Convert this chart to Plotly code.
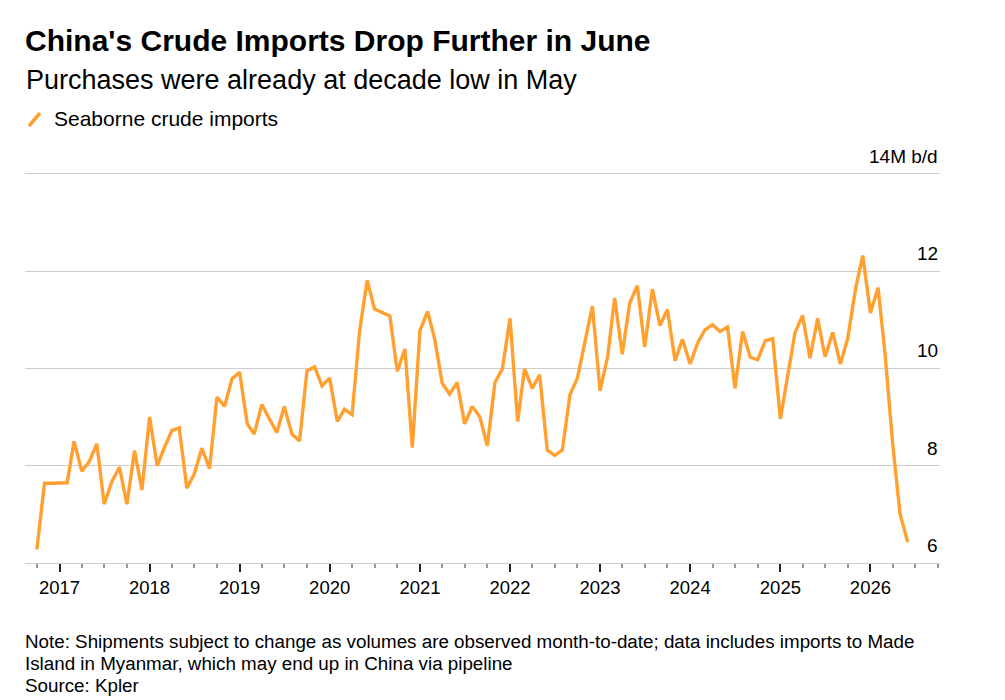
import plotly.graph_objects as go
import pandas as pd

start_month = "2016-10-01"
values = [6.28, 7.64, 7.64, 7.64, 7.65, 8.50, 7.89, 8.08, 8.45, 7.21, 7.67, 7.97,
          7.21, 8.31, 7.50, 9.00, 8.00, 8.36, 8.72, 8.78, 7.54, 7.83, 8.36, 7.94,
          9.41, 9.22, 9.79, 9.92, 8.86, 8.65, 9.26, 8.97, 8.68, 9.22, 8.65, 8.51,
          9.95, 10.03, 9.64, 9.80, 8.91, 9.16, 9.05, 10.76, 11.81, 11.22, 11.15, 11.08,
          9.94, 10.40, 8.37, 10.78, 11.17, 10.62, 9.70, 9.47, 9.71, 8.86, 9.22, 9.00,
          8.41, 9.71, 9.99, 11.03, 8.91, 9.99, 9.59, 9.87, 8.32, 8.21, 8.32, 9.46,
          9.80, 10.55, 11.28, 9.54, 10.25, 11.45, 10.29, 11.34, 11.70, 10.44, 11.63, 10.88,
          11.21, 10.16, 10.60, 10.09, 10.53, 10.79, 10.90, 10.76, 10.85, 9.59, 10.76, 10.23,
          10.18, 10.57, 10.61, 8.96, 9.92, 10.73, 11.09, 10.21, 11.03, 10.24, 10.74, 10.09,
          10.62, 11.62, 12.32, 11.14, 11.66, 10.31, 8.46, 7.01, 6.43]
dates = pd.date_range(start_month, periods=len(values), freq="MS")
y_ticks = [6, 8, 10, 12, 14]
y_labels = ["6", "8", "10", "12", "14M b/d"]
year_ticks = [f"{y}-01-01" for y in range(2017, 2027)]
year_labels = [str(y) for y in range(2017, 2027)]

ORANGE = "#FFA030"
FONT = "Liberation Sans, Arial, sans-serif"
OFF = 8  # page body margin
W, H = 1005 - OFF, 700 - OFF
L, R = 25 - OFF, 1005 - 940
T = 169 - OFF
B = 700 - 563

fig = go.Figure(go.Scatter(x=dates, y=values, mode="lines",
                           line=dict(color=ORANGE, width=3.4), name="Seaborne crude imports",
                           showlegend=False))

fig.update_layout(
    width=W, height=H, margin=dict(l=L, r=R, t=T, b=B, autoexpand=False),
    paper_bgcolor="white", plot_bgcolor="white",
    font=dict(family=FONT, color="#000"),
    xaxis=dict(range=["2016-08-14", "2026-10-10"], tickvals=year_ticks, ticktext=year_labels,
               ticks="outside", ticklen=8, tickcolor="#222", tickwidth=1.5,
               tickfont=dict(size=18.5), showgrid=False, zeroline=False,
               showline=True, linecolor="#cccccc", linewidth=1,
               minor=dict(dtick="M3", tick0="2016-10-01", ticks="outside", ticklen=4,
                          tickcolor="#999", showgrid=False)),
    yaxis=dict(range=[6, 14.1], tickvals=y_ticks, showticklabels=False, showgrid=True,
               gridcolor="#cccccc", gridwidth=1, zeroline=False, fixedrange=True),
)
for v, lab in zip(y_ticks, y_labels):
    fig.add_annotation(x=1.0, xref="paper", y=v, yref="y", text=lab, showarrow=False,
                       xanchor="right", yanchor="bottom", yshift=5, font=dict(size=19))

def ypaper(py):
    py -= OFF
    return (H - B - py) / (H - T - B)
def xpaper(px):
    px -= OFF
    return (px - L) / (W - L - R)

fig.add_annotation(x=xpaper(23), y=ypaper(40), xref="paper", yref="paper", showarrow=False,
                   xanchor="left", yanchor="middle",
                   text="<b>China's Crude Imports Drop Further in June</b>", font=dict(size=30))
fig.add_annotation(x=xpaper(24), y=ypaper(80), xref="paper", yref="paper", showarrow=False,
                   xanchor="left", yanchor="middle",
                   text="Purchases were already at decade low in May", font=dict(size=27))
fig.add_annotation(x=xpaper(52), y=ypaper(119), xref="paper", yref="paper", showarrow=False,
                   xanchor="left", yanchor="middle", text="Seaborne crude imports", font=dict(size=21))
fig.add_shape(type="line", xref="paper", yref="paper", x0=xpaper(29), x1=xpaper(40),
              y0=ypaper(126), y1=ypaper(113), line=dict(color=ORANGE, width=3.5))
notes = ["Note: Shipments subject to change as volumes are observed month-to-date; data includes imports to Made",
         "Island in Myanmar, which may end up in China via pipeline",
         "Source: Kpler"]
for py, t in zip([641, 663, 685], notes):
    fig.add_annotation(x=xpaper(23), y=ypaper(py), xref="paper", yref="paper", showarrow=False,
                       xanchor="left", yanchor="middle", text=t, font=dict(size=18.8))

fig.write_html("out.html")
